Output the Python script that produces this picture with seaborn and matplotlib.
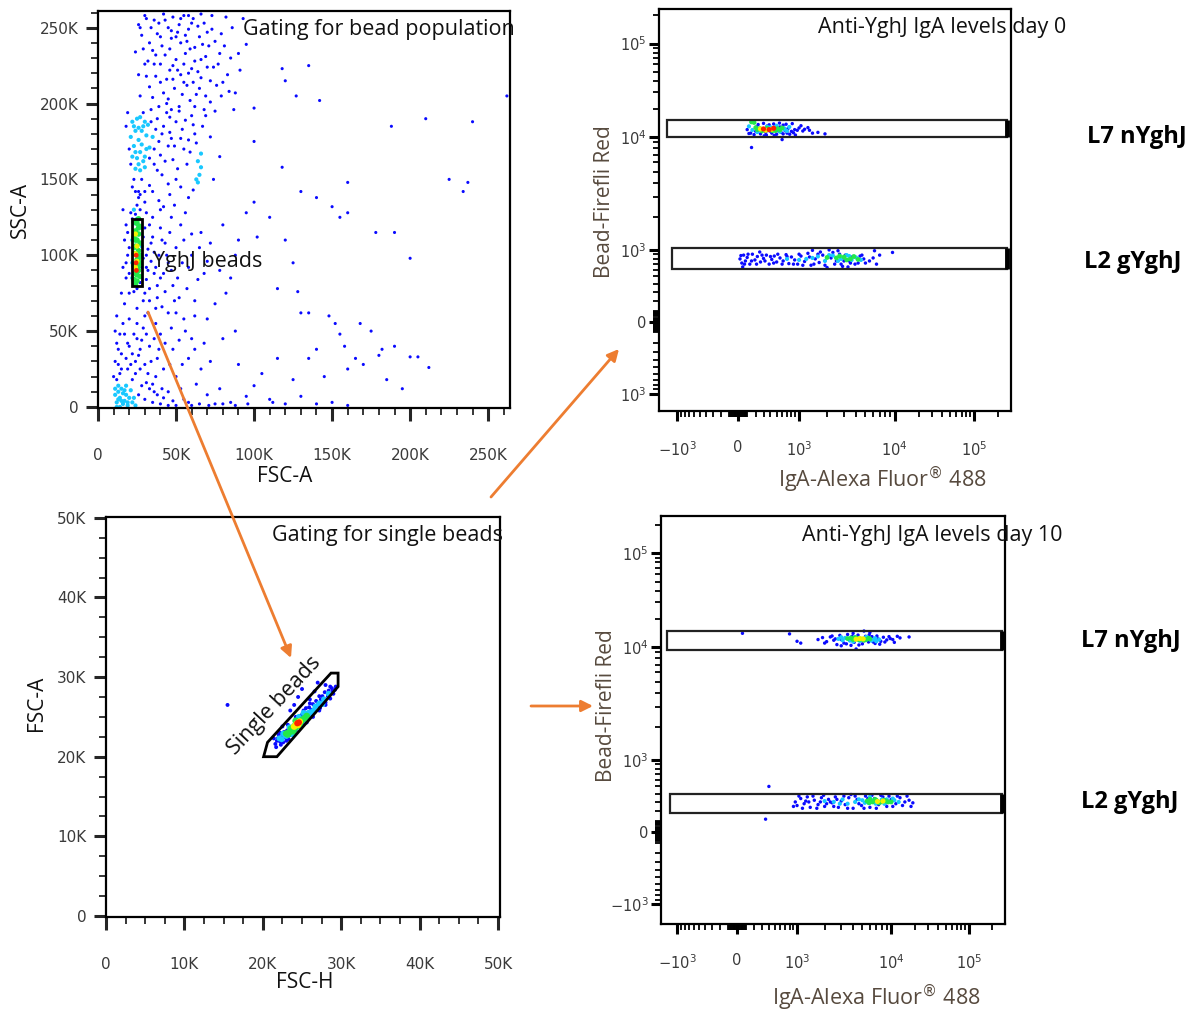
import numpy as np
import pandas as pd
import matplotlib
matplotlib.use("Agg")
import matplotlib.pyplot as plt
import seaborn as sns
from matplotlib.patches import Rectangle, Polygon, FancyArrowPatch

# ---------------- data ----------------
LEVELS = ["blue", "cyan", "green", "yellow", "red"]
LEVEL_COLORS = {"blue": "#0a0aff", "cyan": "#19c8ff", "green": "#22e84a",
                "yellow": "#f4f000", "red": "#ff2200"}

# panel 1: FSC-A vs SSC-A, values in thousands
P1_BLUE = [(30, 258), (36, 255), (42, 259), (48, 257), (55, 258), (61, 256), (66, 259), (73, 258),
           (82, 257), (45, 250), (52, 252), (58, 249), (64, 251), (70, 247), (38, 246), (33, 240),
           (41, 238), (47, 243), (53, 240), (59, 236), (67, 239), (75, 241), (43, 232), (50, 229),
           (56, 233), (62, 228), (69, 231), (78, 233), (36, 226), (46, 222), (53, 219), (60, 223),
           (66, 217), (72, 215), (80, 214), (40, 214), (49, 210), (57, 212), (63, 206), (28, 245),
           (24, 234), (31, 218), (27, 205), (35, 204), (44, 200), (52, 198), (59, 202), (68, 196),
           (76, 212), (85, 230), (91, 222), (100, 197), (118, 223), (135, 225), (142, 202), (95, 239),
           (27, 250), (56, 245), (74, 224), (61, 214), (39, 253), (50, 244), (44, 216), (54, 206),
           (26, 252), (29, 236), (32, 228), (34, 250), (37, 232), (40, 244), (43, 255), (46, 236),
           (48, 225), (51, 247), (53, 256), (55, 226), (57, 241), (60, 253), (62, 237), (64, 221),
           (65, 244), (68, 253), (70, 224), (71, 238), (73, 249), (77, 226), (79, 246), (81, 238),
           (83, 219), (86, 250), (88, 207), (90, 233), (93, 256), (42, 207), (45, 203), (48, 216),
           (51, 222), (55, 214), (58, 220), (62, 198), (65, 210), (69, 205), (72, 201), (75, 195),
           (79, 205), (33, 211), (30, 226), (26, 219), (37, 218), (39, 198), (47, 196), (84, 208),
           (87, 196), (66, 229), (58, 258), (47, 248), (40, 226), (35, 235), (31, 256),
           (38, 190), (42, 185), (46, 181), (50, 188), (54, 183), (58, 176), (45, 172), (40, 166),
           (36, 160), (48, 163), (55, 170), (62, 180), (44, 194), (52, 195), (60, 192), (34, 196),
           (20, 170), (18, 185), (39, 175), (57, 160), (41, 153), (50, 150), (28, 150), (22, 145),
           (35, 142), (46, 140), (58, 138), (42, 132), (30, 135), (47, 177), (37, 183), (33, 164),
           (19, 194), (21, 160), (23, 150), (29, 194), (34, 188), (36, 170), (38, 156), (41, 180),
           (43, 162), (46, 191), (49, 172), (51, 157), (53, 177), (56, 189), (59, 168), (61, 186),
           (63, 174), (67, 185), (69, 192), (72, 178), (74, 150), (78, 165), (45, 147), (53, 145),
           (61, 143), (33, 146), (27, 140), (39, 136), (49, 133), (56, 128),
           (16, 130), (18, 120), (17, 110), (19, 100), (16, 92), (18, 85), (20, 75), (17, 68),
           (31, 128), (33, 120), (35, 112), (32, 104), (34, 96), (36, 88), (31, 84), (38, 80),
           (30, 75), (33, 70), (37, 65), (40, 118), (43, 108), (39, 100), (45, 95), (42, 88),
           (48, 80), (52, 72), (40, 130), (47, 125), (55, 110), (60, 114), (65, 105), (70, 96),
           (58, 92), (64, 84), (75, 68), (80, 120), (88, 100), (95, 128), (110, 125), (125, 95),
           (120, 110), (135, 62), (150, 132), (160, 128), (102, 112), (85, 85), (62, 60), (70, 58),
           (55, 58), (45, 62), (37, 55), (30, 60), (20, 58), (25, 65), (31, 92), (34, 108), (29, 70),
           (15, 75), (18, 95), (20, 105), (19, 115), (21, 128), (20, 88), (30, 118), (31, 100),
           (32, 90), (33, 78), (35, 125), (36, 102), (37, 92), (38, 72), (40, 85), (41, 110),
           (43, 76), (44, 100), (46, 115), (47, 90), (49, 70), (50, 105), (51, 85), (53, 120),
           (54, 95), (57, 78), (60, 100), (62, 70), (66, 115), (68, 88), (72, 108), (78, 90),
           (82, 75), (90, 110), (32, 62), (41, 66), (50, 62), (26, 142), (30, 142),
           (10, 20), (13, 28), (15, 35), (12, 42), (17, 48), (19, 25), (22, 18), (24, 30), (27, 38),
           (25, 45), (29, 52), (32, 22), (35, 15), (33, 40), (38, 32), (40, 48), (42, 25), (45, 10),
           (48, 38), (50, 20), (55, 5), (58, 32), (60, 45), (63, 15), (66, 25), (70, 8), (75, 2),
           (78, 12), (85, 3), (90, 28), (96, 2), (100, 14), (105, 22), (110, 5), (115, 32), (120, 2),
           (125, 18), (130, 7), (140, 38), (145, 20), (150, 3), (155, 48), (160, 25), (165, 32),
           (170, 28), (175, 50), (180, 34), (185, 18), (190, 40), (195, 12), (200, 33), (205, 33),
           (212, 26), (20, 40), (25, 55), (30, 5), (35, 3), (40, 2), (45, 1), (50, 1), (60, 1),
           (65, 2), (28, 14), (38, 8), (11, 50), (12, 60), (14, 22), (22, 35), (27, 25),
           (11, 30), (12, 18), (13, 38), (14, 48), (15, 25), (16, 55), (18, 32), (19, 42), (21, 28),
           (23, 48), (24, 22), (26, 34), (28, 44), (30, 28), (31, 48), (33, 12), (34, 30), (36, 45),
           (37, 20), (39, 38), (41, 12), (43, 42), (46, 28), (47, 52), (52, 44), (54, 28), (56, 50),
           (62, 38), (68, 42), (72, 30), (80, 45), (26, 8), (31, 16), (36, 10), (42, 6), (48, 4),
           (53, 12), (58, 3), (71, 1), (80, 2), (88, 1), (95, 7), (112, 3), (140, 2), (160, 1), (88, 50),
           (188, 185), (210, 190), (240, 188), (160, 148), (225, 150), (237, 148), (234, 142),
           (140, 138), (155, 125), (178, 115), (190, 115), (200, 98), (118, 158), (130, 142),
           (100, 135), (262, 205), (100, 175), (120, 215), (127, 205), (115, 78), (128, 76),
           (130, 62), (148, 60), (152, 55), (168, 55), (158, 40), (182, 38), (135, 32),
           (22, 124), (24, 127), (27, 130), (25, 133), (28, 118), (29, 112), (29, 98), (28, 92),
           (27, 82), (25, 78), (23, 76), (26, 138), (24, 142)]
P1_CYAN = [(22, 188), (24, 182), (26, 176), (23, 172), (27, 168), (25, 164), (29, 185), (31, 179),
           (28, 173), (30, 165), (26, 160), (24, 157), (33, 171), (32, 186), (21, 178), (27, 191),
           (35, 178), (30, 158), (23, 185), (25, 190), (28, 182), (24, 168), (29, 162), (27, 156),
           (31, 170), (22, 165), (26, 184), (30, 188),
           (64, 148), (65, 153), (66, 158), (64, 162), (66, 167), (63, 150),
           (12, 3), (14, 6), (16, 2), (18, 8), (13, 10), (15, 12), (17, 4), (20, 6), (11, 8),
           (19, 1), (22, 3), (14, 0), (16, 9), (21, 11), (13, 14), (12, 0), (15, 4), (17, 11),
           (13, 5), (19, 3), (11, 12), (18, 14), (23, 6), (24, 1),
           (23, 121), (28, 106), (22, 110), (22, 95), (22, 85), (25, 124), (23, 130)]
P1_GREEN = [(23, 122), (25, 121), (27, 119), (24, 116), (26, 114), (23, 112), (25, 110), (27, 108),
            (24, 106), (26, 103), (23, 101), (27, 100), (25, 97), (23, 93), (26, 90), (24, 88),
            (27, 86), (23, 84), (25, 83), (26, 118), (23, 105), (27, 95), (26, 124), (24, 81),
            (26, 98), (24, 110), (26, 93), (25, 87)]
P1_YELLOW = [(24, 114), (25, 106), (24, 101), (25, 96), (24, 92)]
P1_RED = [(24.5, 100), (24.4, 95), (24.6, 90)]
P1_GATE = (21.5, 80, 28.5, 124)  # x0, y0, x1, y1 (thousands)

# panel 3: FSC-H vs FSC-A, thousands
P3_BLUE = [(21.6, 21.6), (21.9, 22.3), (22.2, 21.9), (22.5, 22.6), (22.3, 21.5), (22.9, 22.4),
           (23.1, 23.3), (23.4, 22.7), (23.8, 23.6), (24.2, 23.3), (24.6, 24.5), (25.1, 24.2),
           (25.5, 25.3), (25.9, 24.9), (26.2, 25.9), (26.6, 25.6), (27.0, 26.5), (27.3, 26.1),
           (27.7, 27.0), (28.0, 26.8), (28.3, 27.6), (28.6, 27.3), (28.9, 28.2), (29.2, 28.4),
           (28.4, 28.3), (27.6, 27.6), (26.8, 27.0), (25.9, 26.2), (22.0, 22.8), (23.0, 22.0),
           (24.9, 25.2), (26.3, 25.2), (27.9, 28.1), (28.8, 28.6), (25.3, 24.6), (27.4, 27.2),
           (29.0, 27.9), (21.8, 22.0), (22.7, 23.1), (26.0, 26.7), (24.5, 27.5), (25.0, 28.5),
           (26.0, 27.2), (25.5, 26.1), (23.5, 25.8), (27.0, 29.3), (28.0, 29.0), (24.0, 26.5),
           (22.5, 23.8), (26.6, 28.2), (15.5, 26.5),
           (22.6, 21.8), (23.3, 22.2), (24.0, 22.8), (24.8, 23.6), (25.6, 24.3), (26.4, 25.0),
           (27.2, 25.8), (28.0, 26.5), (22.2, 23.0), (23.2, 24.0), (24.2, 25.0), (25.2, 25.8),
           (26.4, 26.6), (27.2, 27.6), (28.6, 28.8), (29.3, 28.8), (21.7, 21.2), (21.4, 22.3)]
P3_CYAN = [(22.4, 22.2), (22.8, 22.8), (23.3, 23.0), (23.6, 23.2), (24.0, 23.9), (25.4, 25.0),
           (25.8, 25.5), (26.2, 25.6), (26.7, 26.3), (27.2, 26.7), (23.0, 22.6), (24.4, 24.5),
           (27.6, 26.6), (22.1, 22.3), (25.6, 24.8), (23.8, 22.8), (24.8, 23.9), (25.8, 25.0),
           (26.5, 25.8), (27.8, 27.2), (22.6, 22.9), (23.4, 23.7), (24.6, 25.0), (25.2, 25.5),
           (28.4, 27.9)]
P3_GREEN = [(23.2, 22.8), (23.6, 23.5), (24.1, 23.6), (24.6, 24.1), (25.0, 24.6), (25.3, 24.8),
            (23.9, 23.2), (24.4, 23.8), (23.4, 23.1), (24.8, 24.3), (25.6, 25.1), (24.2, 24.5),
            (23.0, 22.9)]
P3_YELLOW = [(24.0, 23.8), (24.3, 24.1), (24.7, 24.4), (24.5, 24.0)]
P3_RED = [(24.4, 24.2), (24.6, 24.3)]
P3_GATE = [(20.1, 20.0), (20.6, 21.8), (28.7, 30.5), (29.6, 30.5), (29.6, 28.8), (21.8, 20.0)]

# panel 2: IgA-Alexa Fluor 488 vs Bead-Firefli Red, day 0
P2_BLUE = [(100, 12000), (140, 11000), (180, 10600), (260, 10800), (340, 10500), (420, 11000),
           (500, 10700), (580, 11200), (620, 10800), (700, 11000), (800, 11500), (880, 12000),
           (950, 11800), (1000, 12500), (1100, 11600), (1300, 11800), (1600, 11200), (1900, 10800),
           (900, 10500), (230, 13600), (300, 14000), (380, 13500), (450, 13800), (550, 14100),
           (680, 13700), (820, 13900), (1050, 13200), (1250, 12600), (600, 9500), (150, 8100),
           (260, 12000), (330, 11200), (470, 12700), (720, 12300),
           (120, 10900), (200, 11500), (310, 10300), (390, 11600), (460, 10400), (540, 11500),
           (660, 11700), (760, 10700), (850, 11100), (1150, 12100), (1400, 11000), (210, 12800),
           (350, 13100), (620, 13400), (560, 12800),
           (20, 800), (40, 720), (60, 880), (80, 760), (100, 830), (130, 700), (160, 900), (190, 780),
           (220, 850), (260, 740), (300, 810), (340, 880), (380, 700), (420, 790), (460, 860),
           (500, 740), (560, 820), (620, 760), (680, 890), (740, 710), (800, 840), (880, 780),
           (960, 700), (1050, 860), (1150, 750), (1250, 920), (1350, 680), (1500, 800), (1650, 730),
           (1800, 880), (2000, 640), (2200, 820), (2400, 700), (2700, 900), (3000, 760), (3300, 650),
           (3700, 850), (4200, 720), (4800, 800), (5500, 760), (6200, 980), (7000, 880), (6500, 700),
           (9500, 940), (2100, 1000), (2600, 980), (1400, 990), (50, 650), (250, 950), (1700, 950),
           (2900, 660), (3500, 720), (4600, 880),
           (30, 870), (70, 700), (110, 900), (150, 760), (210, 700), (280, 880), (320, 760),
           (400, 850), (450, 720), (520, 900), (600, 700), (700, 850), (850, 700), (1000, 900),
           (1100, 680), (1300, 840), (1450, 700), (1600, 900), (1900, 680), (2300, 940), (2500, 760),
           (2800, 700), (3100, 880), (3400, 760), (3900, 700), (4400, 860), (5000, 720), (6000, 820)]
P2_CYAN = [(120, 13000), (220, 11300), (650, 12000), (700, 11600), (350, 12900), (160, 11900),
           (500, 13200), (750, 12800), (240, 11900), (400, 12700), (560, 11400), (640, 12400),
           (1200, 800), (1600, 850), (1900, 760), (2300, 870), (2800, 800), (3200, 880), (3600, 780),
           (4000, 830), (700, 800), (1000, 780), (1400, 820), (2600, 760), (3400, 860), (4500, 780),
           (2100, 880)]
P2_GREEN = [(200, 12600), (250, 12300), (520, 12300), (560, 11900), (280, 11600), (480, 11700),
            (150, 14500), (180, 14300), (600, 12500), (350, 12400), (430, 11700), (220, 12000),
            (2500, 820), (3000, 840), (3500, 800), (4200, 790), (2000, 830), (3200, 780),
            (3800, 850), (2700, 860)]
P2_YELLOW = [(330, 11800), (420, 12100), (260, 12200)]
P2_RED = [(300, 12200), (380, 12000), (450, 12400)]
P2_GATES = {"L7 nYghJ": (-1300, 10000, 262143, 15200), "L2 gYghJ": (-1150, 620, 262143, 1050)}

# panel 4: day 10
P4_BLUE = [(1700, 12000), (1900, 12600), (2100, 11400), (2300, 12800), (2500, 11800), (2700, 10600),
           (2900, 13300), (3200, 11000), (3500, 13600), (3800, 10400), (4100, 11200), (4500, 13400),
           (5000, 10800), (5400, 13000), (5800, 11300), (6300, 12900), (6800, 10900), (7300, 12200),
           (7800, 11500), (8300, 12700), (9000, 11900), (9800, 12300), (11000, 11200),
           (13000, 12500), (17000, 12800), (4300, 9600), (5200, 14800), (60, 14000), (800, 13800),
           (1000, 11500), (1100, 11000), (3000, 12000), (6000, 14300),
           (2000, 11000), (2400, 13100), (2600, 12200), (3400, 10800), (3900, 13000), (4600, 10500),
           (5300, 11700), (5900, 13500), (6500, 11300), (7100, 13100), (7600, 10700), (8600, 11300),
           (9500, 12900), (10500, 12000), (12000, 13000), (4000, 14000), (3000, 10300),
           (950, 300), (1000, 260), (1100, 340), (1200, 280), (1300, 360), (1400, 240), (1550, 320),
           (1700, 270), (1850, 350), (2000, 250), (2200, 330), (2400, 290), (2600, 360), (2800, 240),
           (3000, 310), (3300, 270), (3600, 350), (4000, 230), (4400, 330), (4900, 260), (5400, 370),
           (6000, 240), (6700, 340), (7400, 270), (8200, 360), (9000, 250), (10000, 330),
           (11500, 280), (13000, 350), (15000, 300), (17000, 320), (19000, 290), (3800, 390),
           (400, 500), (350, 120), (1250, 310), (2300, 300),
           (900, 250), (1050, 370), (1150, 230), (1350, 300), (1500, 370), (1650, 230), (1800, 300),
           (1950, 380), (2100, 280), (2500, 250), (2700, 330), (3200, 370), (3500, 230), (4200, 370),
           (4600, 280), (5200, 230), (5700, 340), (6300, 380), (7000, 230), (7800, 380), (8600, 280),
           (9500, 370), (10500, 250), (12000, 370), (14000, 260), (16000, 370), (18000, 250)]
P4_CYAN = [(2800, 12200), (3300, 12500), (3700, 11700), (4200, 12700), (4700, 11600), (5200, 12300),
           (5700, 12600), (6200, 11700), (6800, 12400), (3100, 11800), (7500, 12000),
           (3000, 12700), (4500, 11900), (5500, 12800), (6600, 12000), (7000, 11500), (4000, 11400),
           (2500, 300), (3100, 330), (3500, 280), (5000, 320), (5800, 290), (6500, 320), (7300, 300),
           (8000, 330), (9500, 300), (11000, 320), (12500, 300), (4200, 300),
           (2000, 310), (2900, 280), (4600, 330), (5300, 290), (6000, 360), (6900, 280), (8500, 280),
           (10500, 340), (9000, 330)]
P4_GREEN = [(3500, 12300), (4000, 12000), (4400, 12400), (4900, 12100), (5500, 12000), (3800, 12500),
            (6000, 12200), (4200, 12600), (5200, 11800), (5800, 12400), (4600, 12000),
            (5600, 310), (6400, 300), (7000, 320), (7800, 300), (8800, 310), (10000, 300), (6000, 330),
            (6800, 330), (7500, 290), (8500, 320), (9300, 300), (5900, 290)]
P4_YELLOW = [(4300, 12100), (4700, 12300), (5100, 12200), (7200, 305), (8200, 310)]
P4_RED = []
P4_GATES = {"L7 nYghJ": (-1300, 9400, 262143, 14700), "L2 gYghJ": (-1200, 180, 262143, 400)}

LIN_TICKS_P1 = [0, 50, 100, 150, 200, 250]
LIN_TICKS_P3 = [0, 10, 20, 30, 40, 50]
BIEX_MAJOR = [-1e3, 0, 1e3, 1e4, 1e5]

# ---------------- helpers ----------------
W, H = 1193, 1013
ARROW = "#ED7D31"
TICK_COL = "#3a3a3a"
LABEL_COL = "#574a3e"

# biexponential-like display: arcsinh, then stretched to the decade spacing of the plot
C = 415.0
KNOT_VALS = np.array([-1e6, -1e5, -1e4, -1e3, 0, 1e3, 1e4, 1e5, 1e6])
KNOT_POS = np.array([-5.17, -3.87, -2.57, -1.0, 0.0, 1.0, 2.57, 3.87, 5.17])
KNOT_A = np.arcsinh(KNOT_VALS / C)


def biex_fwd(v):
    return np.interp(np.arcsinh(np.asarray(v, dtype=float) / C), KNOT_A, KNOT_POS)


def biex_inv(u):
    return C * np.sinh(np.interp(np.asarray(u, dtype=float), KNOT_POS, KNOT_A))


def box(x0, y0, x1, y1):
    return [x0 / W, 1 - y1 / H, (x1 - x0) / W, (y1 - y0) / H]


def fx(x):
    return x / W


def fy(y):
    return 1 - y / H


def cloud(blue, cyan, green, yellow, red):
    rows = []
    for level, pts in zip(LEVELS, [blue, cyan, green, yellow, red]):
        rows += [(x, y, level) for x, y in pts]
    return pd.DataFrame(rows, columns=["x", "y", "level"])


def draw_cloud(ax, df, sizes):
    sns.scatterplot(data=df, x="x", y="y", hue="level", palette=LEVEL_COLORS, hue_order=LEVELS,
                    size="level", sizes=sizes, size_order=LEVELS, linewidth=0, legend=False, ax=ax)
    ax.set_xlabel("")
    ax.set_ylabel("")


def frame(ax):
    for s in ax.spines.values():
        s.set_visible(True)
        s.set_linewidth(1.6)
        s.set_color("black")


def biex_axis(ax, ylabels):
    ax.set_xscale("function", functions=(biex_fwd, biex_inv))
    ax.set_yscale("function", functions=(biex_fwd, biex_inv))
    minor = ([-k * 100 for k in range(1, 10)] + [k * 10 for k in range(-9, 10) if k != 0]
             + [k * 100 for k in range(1, 10)] + [k * 1e3 for k in range(2, 10)]
             + [k * 1e4 for k in range(2, 10)] + [2e5])
    ax.set_xticks(BIEX_MAJOR, labels=["$-10^{3}$", "0", "$10^{3}$", "$10^{4}$", "$10^{5}$"])
    ax.set_yticks(BIEX_MAJOR, labels=ylabels)
    ax.set_xticks(minor, minor=True)
    ax.set_yticks(minor, minor=True)
    ax.tick_params(which="major", direction="out", length=7, width=2.2, color="black",
                   labelsize=10.5, labelcolor=TICK_COL)
    ax.tick_params(which="minor", direction="out", length=4, width=1.3, color="black")
    ax.tick_params(axis="x", which="major", pad=14)
    ax.tick_params(axis="y", which="major", pad=2)
    frame(ax)


def gate_rects(ax, gates):
    for x0, y0, x1, y1 in gates.values():
        ax.add_patch(Rectangle((x0, y0), x1 - x0, y1 - y0, fill=False, ec="#222222", lw=1.6, zorder=4))
        ax.plot([x1, x1], [y0, y1], color="black", lw=3.5, solid_capstyle="butt", zorder=5)


# ---------------- figure ----------------
sns.set_style("ticks")
plt.rcParams["font.family"] = ["DejaVu Sans"]
plt.rcParams["mathtext.fontset"] = "dejavusans"

fig = plt.figure(figsize=(W / 100, H / 100), dpi=100)

# panel 1 -- bead population
ax1 = fig.add_axes(box(98, 11, 510, 408))
draw_cloud(ax1, cloud(P1_BLUE, P1_CYAN, P1_GREEN, P1_YELLOW, P1_RED),
           {"blue": 5, "cyan": 9, "green": 16, "yellow": 14, "red": 12})
ax1.set_xlim(0, 264)
ax1.set_ylim(-0.7, 261)
ax1.set_xticks(LIN_TICKS_P1, labels=["0" if t == 0 else f"{t}K" for t in LIN_TICKS_P1])
ax1.set_yticks(LIN_TICKS_P1, labels=["0" if t == 0 else f"{t}K" for t in LIN_TICKS_P1])
ax1.set_xticks(range(0, 261, 10), minor=True)
ax1.set_yticks(range(0, 261, 10), minor=True)
ax1.tick_params(which="major", direction="out", length=9, width=2.2, labelsize=11, labelcolor=TICK_COL)
ax1.tick_params(which="minor", direction="out", length=5, width=1.3)
ax1.tick_params(axis="x", which="major", pad=20)
ax1.tick_params(axis="y", which="major", pad=5)
frame(ax1)
gx0, gy0, gx1, gy1 = P1_GATE
ax1.add_patch(Rectangle((gx0, gy0), gx1 - gx0, gy1 - gy0, fill=False, ec="black", lw=2, zorder=5))

# panel 3 -- single beads
ax3 = fig.add_axes(box(106, 517, 500, 917))
draw_cloud(ax3, cloud(P3_BLUE, P3_CYAN, P3_GREEN, P3_YELLOW, P3_RED),
           {"blue": 8, "cyan": 18, "green": 24, "yellow": 24, "red": 20})
ax3.set_xlim(0, 50.25)
ax3.set_ylim(-0.13, 50.1)
ax3.set_xticks(LIN_TICKS_P3, labels=["0" if t == 0 else f"{t}K" for t in LIN_TICKS_P3])
ax3.set_yticks(LIN_TICKS_P3, labels=["0" if t == 0 else f"{t}K" for t in LIN_TICKS_P3])
ax3.set_xticks(np.arange(0, 50.1, 2.5), minor=True)
ax3.set_yticks(np.arange(0, 50.1, 2.5), minor=True)
ax3.tick_params(which="major", direction="out", length=9, width=2.2, labelsize=11, labelcolor=TICK_COL)
ax3.tick_params(which="minor", direction="out", length=5, width=1.3)
ax3.tick_params(axis="x", which="major", pad=20)
ax3.tick_params(axis="y", which="major", pad=5)
frame(ax3)
ax3.add_patch(Polygon(P3_GATE, closed=True, fill=False, ec="black", lw=2, zorder=5))

# panel 2 -- day 0
ax2 = fig.add_axes(box(659, 9, 1011, 411))
biex_axis(ax2, ["$10^{3}$", "0", "$10^{3}$", "$10^{4}$", "$10^{5}$"])
draw_cloud(ax2, cloud(P2_BLUE, P2_CYAN, P2_GREEN, P2_YELLOW, P2_RED),
           {"blue": 6, "cyan": 9, "green": 12, "yellow": 14, "red": 14})
ax2.set_xlim(biex_inv(-1.30), biex_inv(4.48))
ax2.set_ylim(biex_inv(-1.24), biex_inv(4.35))
gate_rects(ax2, P2_GATES)

# panel 4 -- day 10
ax4 = fig.add_axes(box(661, 516, 1005, 924))
biex_axis(ax4, ["$-10^{3}$", "0", "$10^{3}$", "$10^{4}$", "$10^{5}$"])
draw_cloud(ax4, cloud(P4_BLUE, P4_CYAN, P4_GREEN, P4_YELLOW, P4_RED),
           {"blue": 6, "cyan": 9, "green": 12, "yellow": 14, "red": 14})
ax4.set_xlim(biex_inv(-1.27), biex_inv(4.47))
ax4.set_ylim(biex_inv(-1.28), biex_inv(4.39))
gate_rects(ax4, P4_GATES)

# ---------------- texts ----------------
TXT = dict(family="Open Sans", color="#111111")
fig.text(fx(285), fy(476), "FSC-A", fontsize=15, ha="center", va="center", **TXT)
fig.text(fx(20), fy(210), "SSC-A", fontsize=15, ha="center", va="center", rotation=90, **TXT)
fig.text(fx(305), fy(982), "FSC-H", fontsize=15, ha="center", va="center", **TXT)
fig.text(fx(37), fy(703), "FSC-A", fontsize=15, ha="center", va="center", rotation=90, **TXT)

XLAB = r"IgA-Alexa Fluor$^{\circledR}$ 488"
fig.text(fx(882), fy(480), XLAB, fontsize=15.5, ha="center", va="center", family="Open Sans", color=LABEL_COL)
fig.text(fx(604), fy(202), "Bead-Firefli Red", fontsize=15, ha="center", va="center",
         rotation=90, family="Open Sans", color=LABEL_COL)
fig.text(fx(876), fy(998), XLAB, fontsize=15.5, ha="center", va="center", family="Open Sans", color=LABEL_COL)
fig.text(fx(606), fy(706), "Bead-Firefli Red", fontsize=15, ha="center", va="center",
         rotation=90, family="Open Sans", color=LABEL_COL)

fig.text(fx(515), fy(30), "Gating for bead population", fontsize=15.5, ha="right", va="center", **TXT)
fig.text(fx(153), fy(261), "YghJ beads", fontsize=15.5, ha="left", va="center", **TXT)
fig.text(fx(503), fy(535), "Gating for single beads", fontsize=15.5, ha="right", va="center", **TXT)
fig.text(fx(274), fy(706), "Single beads", fontsize=15.5, ha="center", va="center", rotation=47, **TXT)
fig.text(fx(1066), fy(28), "Anti-YghJ IgA levels day 0", fontsize=15.5, ha="right", va="center", **TXT)
fig.text(fx(1062), fy(535), "Anti-YghJ IgA levels day 10", fontsize=15.5, ha="right", va="center", **TXT)

BOLD = dict(family="Open Sans", fontweight="bold", fontsize=17, color="black", ha="left", va="center")
fig.text(fx(1087), fy(137), "L7 nYghJ", **BOLD)
fig.text(fx(1084), fy(262), "L2 gYghJ", **BOLD)
fig.text(fx(1081), fy(641), "L7 nYghJ", **BOLD)
fig.text(fx(1081), fy(802), "L2 gYghJ", **BOLD)

# ---------------- arrows ----------------
for (x0, y0), (x1, y1) in [((148, 312), (291, 658)), ((491, 497), (619, 349)), ((531, 706), (593, 706))]:
    fig.add_artist(FancyArrowPatch((fx(x0), fy(y0)), (fx(x1), fy(y1)), transform=fig.transFigure,
                                   arrowstyle="-|>", mutation_scale=17, color=ARROW, lw=2,
                                   shrinkA=0, shrinkB=0))

fig.savefig("out.png", dpi=100)
